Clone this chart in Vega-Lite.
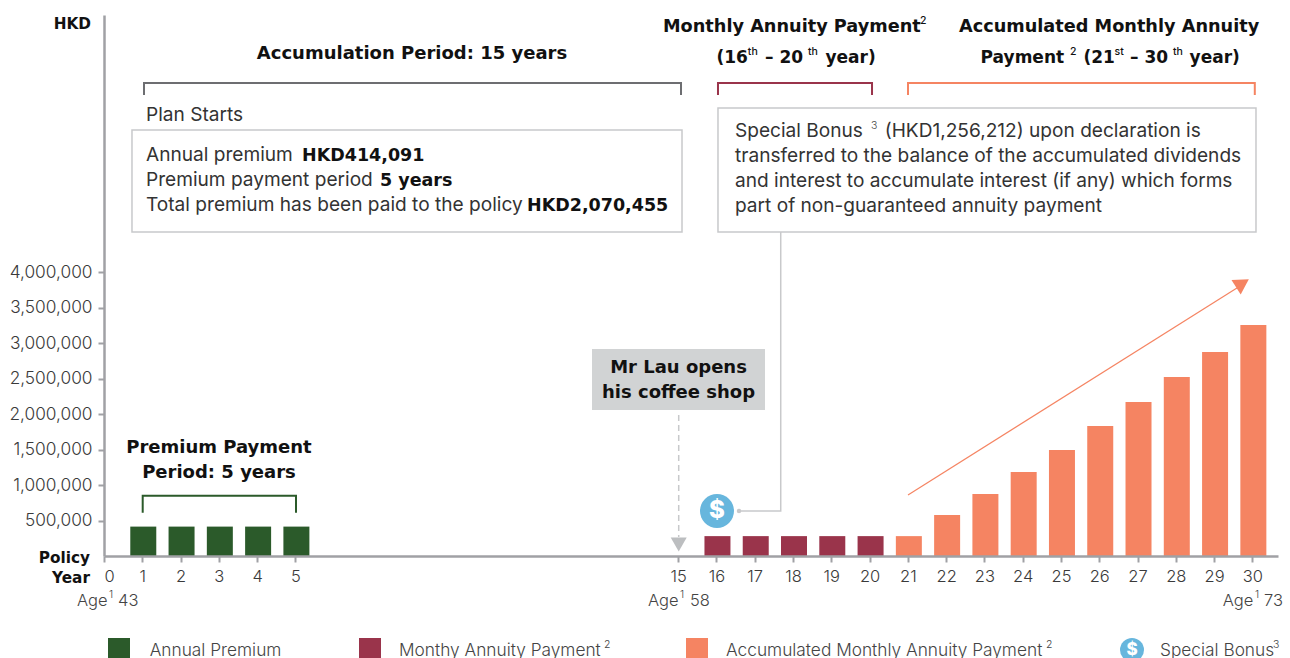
{
"$schema":"https://vega.github.io/schema/vega-lite/v6.json",
"width":1174,"height":541,
"autosize":{"type":"none"},
"padding":{"left":104,"top":15,"right":12,"bottom":102},
"background":"white",
"config":{"view":{"stroke":null},"text":{"font":"Inter"}},
"datasets":{
"bars":[
{"year":1,"amount":414091,"series":"Annual Premium"},{"year":2,"amount":414091,"series":"Annual Premium"},{"year":3,"amount":414091,"series":"Annual Premium"},{"year":4,"amount":414091,"series":"Annual Premium"},{"year":5,"amount":414091,"series":"Annual Premium"},
{"year":16,"amount":280000,"series":"Monthly Annuity Payment"},{"year":17,"amount":280000,"series":"Monthly Annuity Payment"},{"year":18,"amount":280000,"series":"Monthly Annuity Payment"},{"year":19,"amount":280000,"series":"Monthly Annuity Payment"},{"year":20,"amount":280000,"series":"Monthly Annuity Payment"},
{"year":21,"amount":280000,"series":"Accumulated Monthly Annuity Payment"},{"year":22,"amount":577000,"series":"Accumulated Monthly Annuity Payment"},{"year":23,"amount":873000,"series":"Accumulated Monthly Annuity Payment"},{"year":24,"amount":1183000,"series":"Accumulated Monthly Annuity Payment"},{"year":25,"amount":1493000,"series":"Accumulated Monthly Annuity Payment"},{"year":26,"amount":1831000,"series":"Accumulated Monthly Annuity Payment"},{"year":27,"amount":2169000,"series":"Accumulated Monthly Annuity Payment"},{"year":28,"amount":2521000,"series":"Accumulated Monthly Annuity Payment"},{"year":29,"amount":2873000,"series":"Accumulated Monthly Annuity Payment"},{"year":30,"amount":3254000,"series":"Accumulated Monthly Annuity Payment"}
],
"swatches":[
{"year":0.104,"year2":0.679,"amount":-1154970,"amount2":-1549350,"series":"Annual Premium"},
{"year":6.662,"year2":7.236,"amount":-1154970,"amount2":-1549350,"series":"Monthly Annuity Payment"},
{"year":15.205,"year2":15.779,"amount":-1154970,"amount2":-1549350,"series":"Accumulated Monthly Annuity Payment"}
],
"brackets":[
{"group":"Accumulation","seq":1,"year":1.045,"amount":6493185},{"group":"Accumulation","seq":2,"year":1.045,"amount":6662205},{"group":"Accumulation","seq":3,"year":15.074,"amount":6662205},{"group":"Accumulation","seq":4,"year":15.074,"amount":6493185},
{"group":"Monthly","seq":1,"year":16.04,"amount":6493185},{"group":"Monthly","seq":2,"year":16.04,"amount":6662205},{"group":"Monthly","seq":3,"year":20.064,"amount":6662205},{"group":"Monthly","seq":4,"year":20.064,"amount":6493185},
{"group":"Accumulated","seq":1,"year":21.004,"amount":6493185},{"group":"Accumulated","seq":2,"year":21.004,"amount":6662205},{"group":"Accumulated","seq":3,"year":30.064,"amount":6662205},{"group":"Accumulated","seq":4,"year":30.064,"amount":6493185},
{"group":"Premium","seq":1,"year":1.011,"amount":609881},{"group":"Premium","seq":2,"year":1.011,"amount":849326},{"group":"Premium","seq":3,"year":5.016,"amount":849326},{"group":"Premium","seq":4,"year":5.016,"amount":609881}
],
"boldTop":[
{"year":14.604,"amount":7380540,"label":"Monthly Annuity Payment"},
{"year":22.337,"amount":7380540,"label":"Accumulated Monthly Annuity"}
],
"boldTop2":[
{"year":16.001,"amount":6943905,"label":"(16"},
{"year":17.268,"amount":6943905,"label":"– 20"},
{"year":18.849,"amount":6943905,"label":"year)"},
{"year":22.901,"amount":6943905,"label":"Payment"},
{"year":25.589,"amount":6943905,"label":"(21"},
{"year":26.804,"amount":6943905,"label":"– 30"},
{"year":28.361,"amount":6943905,"label":"year)"}
],
"boldBox":[
{"year":5.173,"amount":5563575,"label":"HKD414,091"},
{"year":7.21,"amount":5211450,"label":"5 years"},
{"year":11.051,"amount":4859325,"label":"HKD2,070,455"}
],
"boldCenter":[
{"year":8.046,"amount":7000245,"label":"Accumulation Period: 15 years"},
{"year":3.004,"amount":1450755,"label":"Premium Payment"},
{"year":3.004,"amount":1098630,"label":"Period: 5 years"},
{"year":15.009,"amount":2577555,"label":"Mr Lau opens"},
{"year":15.009,"amount":2225430,"label":"his coffee shop"}
],
"boldRight":[
{"year":-0.34,"amount":7422795,"label":"HKD"},
{"year":-0.366,"amount":-98595,"label":"Policy"},
{"year":-0.366,"amount":-380295,"label":"Year"}
],
"body":[
{"year":1.097,"amount":6126975,"label":"Plan Starts"},
{"year":1.097,"amount":5563575,"label":"Annual premium"},
{"year":1.097,"amount":5211450,"label":"Premium payment period"},
{"year":1.097,"amount":4859325,"label":"Total premium has been paid to the policy"},
{"year":16.484,"amount":5901615,"label":"Special Bonus"},
{"year":20.395,"amount":5901615,"label":"(HKD1,256,212) upon declaration is"},
{"year":16.484,"amount":5549490,"label":"transferred to the balance of the accumulated dividends"},
{"year":16.484,"amount":5197365,"label":"and interest to accumulate interest (if any) which forms"},
{"year":16.484,"amount":4845240,"label":"part of non-guaranteed annuity payment"}
],
"ages":[
{"year":-0.705,"amount":-704250,"label":"Age"},{"year":0.366,"amount":-704250,"label":"43"},
{"year":14.212,"amount":-704250,"label":"Age"},{"year":15.309,"amount":-704250,"label":"58"},
{"year":29.226,"amount":-704250,"label":"Age"},{"year":30.304,"amount":-704250,"label":"73"}
],
"legendText":[
{"year":1.194,"amount":-1408500,"label":"Annual Premium"},
{"year":7.707,"amount":-1408500,"label":"Monthy Annuity Payment"},
{"year":16.25,"amount":-1408500,"label":"Accumulated Monthly Annuity Payment"},
{"year":27.587,"amount":-1408500,"label":"Special Bonus"}
],
"supBold":[
{"year":21.318,"amount":7500263,"label":"2"},
{"year":16.82,"amount":7063628,"label":"th"},
{"year":18.392,"amount":7063628,"label":"th"},
{"year":25.236,"amount":7063628,"label":"2"},
{"year":26.4,"amount":7063628,"label":"st"},
{"year":27.927,"amount":7063628,"label":"th"}
],
"supRegular":[
{"year":20.037,"amount":6014295,"label":"3"},
{"year":0.133,"amount":-591570,"label":"1"},
{"year":15.048,"amount":-591570,"label":"1"},
{"year":30.069,"amount":-591570,"label":"1"},
{"year":13.062,"amount":-1295820,"label":"2"},
{"year":24.609,"amount":-1295820,"label":"2"},
{"year":30.54,"amount":-1295820,"label":"3"}
]
},
"encoding":{
"x":{"field":"year","type":"quantitative","title":null,"scale":{"domain":[0,30.67],"nice":false,"zero":false,"padding":0},
"axis":{"values":[0,1,2,3,4,5,15,16,17,18,19,20,21,22,23,24,25,26,27,28,29,30],"grid":false,"format":"d","domainColor":"#a0a1a5","domainWidth":2.5,"tickColor":"#a0a1a5","tickWidth":2,"tickSize":6,"labelPadding":6,"labelFont":"Inter","labelFontSize":16.5,"labelColor":"#3a3a3a","labelFontWeight":300,"labelOverlap":false,"zindex":1}},
"y":{"field":"amount","type":"quantitative","title":null,"scale":{"domain":[0,7620000],"nice":false,"zero":false},
"axis":{"values":[500000,1000000,1500000,2000000,2500000,3000000,3500000,4000000],"grid":false,"format":",d","domainColor":"#a0a1a5","domainWidth":2.5,"tickColor":"#a0a1a5","tickWidth":2,"tickSize":6,"labelPadding":6,"labelFont":"Inter","labelFontSize":17.3,"labelColor":"#3a3a3a","labelFontWeight":300,"labelOverlap":false,"zindex":1}}
},
"layer":[
{"data":{"values":[{"year":0.731,"year2":15.1,"amount":6000210,"amount2":4563540,"box":"Plan summary"},{"year":16.04,"year2":30.095,"amount":6310080,"amount2":4563540,"box":"Special bonus note"}]},
 "mark":{"type":"rect","fill":"white","stroke":"#c8c9cb","strokeWidth":1.5},
 "encoding":{"x2":{"field":"year2"},"y2":{"field":"amount2"}}},
{"data":{"values":[{"year":12.749,"year2":17.268,"amount":2915595,"amount2":2056410,"box":"Coffee shop"}]},
 "mark":{"type":"rect","fill":"#d1d3d4"},
 "encoding":{"x2":{"field":"year2"},"y2":{"field":"amount2"}}},
{"data":{"name":"bars"},
 "mark":{"type":"bar","width":26,"xOffset":1},
 "encoding":{"color":{"field":"series","type":"nominal","legend":null,"scale":{"domain":["Annual Premium","Monthly Annuity Payment","Accumulated Monthly Annuity Payment"],"range":["#2b5a2a","#9a344b","#f58462"]}}}},
{"data":{"name":"swatches"},
 "mark":{"type":"rect"},
 "encoding":{"x2":{"field":"year2"},"y2":{"field":"amount2"},"color":{"field":"series","type":"nominal","legend":null}}},
{"data":{"name":"brackets"},
 "mark":{"type":"line","strokeWidth":2,"interpolate":"linear","strokeJoin":"miter"},
 "encoding":{"order":{"field":"seq"},"detail":{"field":"group"},"stroke":{"field":"group","type":"nominal","legend":null,"scale":{"domain":["Accumulation","Monthly","Accumulated","Premium"],"range":["#6d6e71","#9a344b","#f58462","#2b5a2a"]}}}},
{"data":{"values":[{"seq":1,"year":17.679,"amount":4563540},{"seq":2,"year":17.679,"amount":633825},{"seq":3,"year":16.589,"amount":633825}]},
 "mark":{"type":"line","stroke":"#c8c9cb","strokeWidth":1.5},
 "encoding":{"order":{"field":"seq"}}},
{"data":{"values":[{"year":16.589,"amount":633825}]},
 "mark":{"type":"point","shape":"circle","filled":true,"fill":"#c8c9cb","size":20,"opacity":1}},
{"data":{"values":[{"seq":1,"year":15.014,"amount":1985985},{"seq":2,"year":15.014,"amount":267615}]},
 "mark":{"type":"line","stroke":"#c8c9cb","strokeWidth":1.5,"strokeDash":[6,4]},
 "encoding":{"order":{"field":"seq"}}},
{"data":{"values":[{"year":15.014,"amount":161978}]},
 "mark":{"type":"point","shape":"triangle-down","filled":true,"fill":"#bcbec0","size":256,"opacity":1}},
{"data":{"values":[{"seq":1,"year":21.004,"amount":859185},{"seq":2,"year":29.722,"amount":3817035}]},
 "mark":{"type":"line","stroke":"#f58462","strokeWidth":1.2},
 "encoding":{"order":{"field":"seq"}}},
{"data":{"values":[{"year":29.686,"amount":3822669}]},
 "mark":{"type":"point","shape":"triangle","filled":true,"fill":"#f58462","size":300,"angle":58,"opacity":1}},
{"data":{"values":[{"year":16.014,"amount":633825}]},
 "mark":{"type":"point","shape":"circle","filled":true,"fill":"#67b6dd","size":1156,"opacity":1}},
{"data":{"values":[{"year":26.856,"amount":-1323990}]},
 "mark":{"type":"point","shape":"circle","filled":true,"fill":"#67b6dd","size":576,"opacity":1}},
{"data":{"values":[{"year":16.014,"amount":633825,"label":"$"}]},
 "mark":{"type":"text","font":"Inter","fontWeight":800,"fontSize":24,"fill":"white","align":"center","baseline":"middle"},
 "encoding":{"text":{"field":"label"}}},
{"data":{"values":[{"year":26.856,"amount":-1323990,"label":"$"}]},
 "mark":{"type":"text","font":"Inter","fontWeight":800,"fontSize":17,"fill":"white","align":"center","baseline":"middle"},
 "encoding":{"text":{"field":"label"}}},
{"data":{"name":"boldTop"},
 "mark":{"type":"text","font":"DejaVu Sans","fontWeight":700,"fontSize":17.7,"fill":"#111111","align":"left","baseline":"alphabetic"},
 "encoding":{"text":{"field":"label"}}},
{"data":{"name":"boldTop2"},
 "mark":{"type":"text","font":"DejaVu Sans","fontWeight":700,"fontSize":17,"fill":"#111111","align":"left","baseline":"alphabetic"},
 "encoding":{"text":{"field":"label"}}},
{"data":{"name":"boldBox"},
 "mark":{"type":"text","font":"DejaVu Sans","fontWeight":700,"fontSize":17.5,"fill":"#111111","align":"left","baseline":"alphabetic"},
 "encoding":{"text":{"field":"label"}}},
{"data":{"name":"boldCenter"},
 "mark":{"type":"text","font":"DejaVu Sans","fontWeight":700,"fontSize":18,"fill":"#111111","align":"center","baseline":"alphabetic"},
 "encoding":{"text":{"field":"label"}}},
{"data":{"name":"boldRight"},
 "mark":{"type":"text","font":"DejaVu Sans","fontWeight":700,"fontSize":15.3,"fill":"#111111","align":"right","baseline":"alphabetic"},
 "encoding":{"text":{"field":"label"}}},
{"data":{"name":"body"},
 "mark":{"type":"text","font":"Inter","fontWeight":400,"fontSize":19.1,"fill":"#333333","align":"left","baseline":"alphabetic"},
 "encoding":{"text":{"field":"label"}}},
{"data":{"name":"ages"},
 "mark":{"type":"text","font":"Inter","fontWeight":300,"fontSize":16.5,"fill":"#444444","align":"left","baseline":"alphabetic"},
 "encoding":{"text":{"field":"label"}}},
{"data":{"name":"legendText"},
 "mark":{"type":"text","font":"Inter","fontWeight":300,"fontSize":17.3,"fill":"#444444","align":"left","baseline":"alphabetic"},
 "encoding":{"text":{"field":"label"}}},
{"data":{"name":"supBold"},
 "mark":{"type":"text","font":"Inter","fontWeight":500,"fontSize":10.5,"fill":"#111111","align":"left","baseline":"alphabetic"},
 "encoding":{"text":{"field":"label"}}},
{"data":{"name":"supRegular"},
 "mark":{"type":"text","font":"Inter","fontWeight":300,"fontSize":10.5,"fill":"#444444","align":"left","baseline":"alphabetic"},
 "encoding":{"text":{"field":"label"}}}
],
"resolve":{"scale":{"color":"shared"}}
}
